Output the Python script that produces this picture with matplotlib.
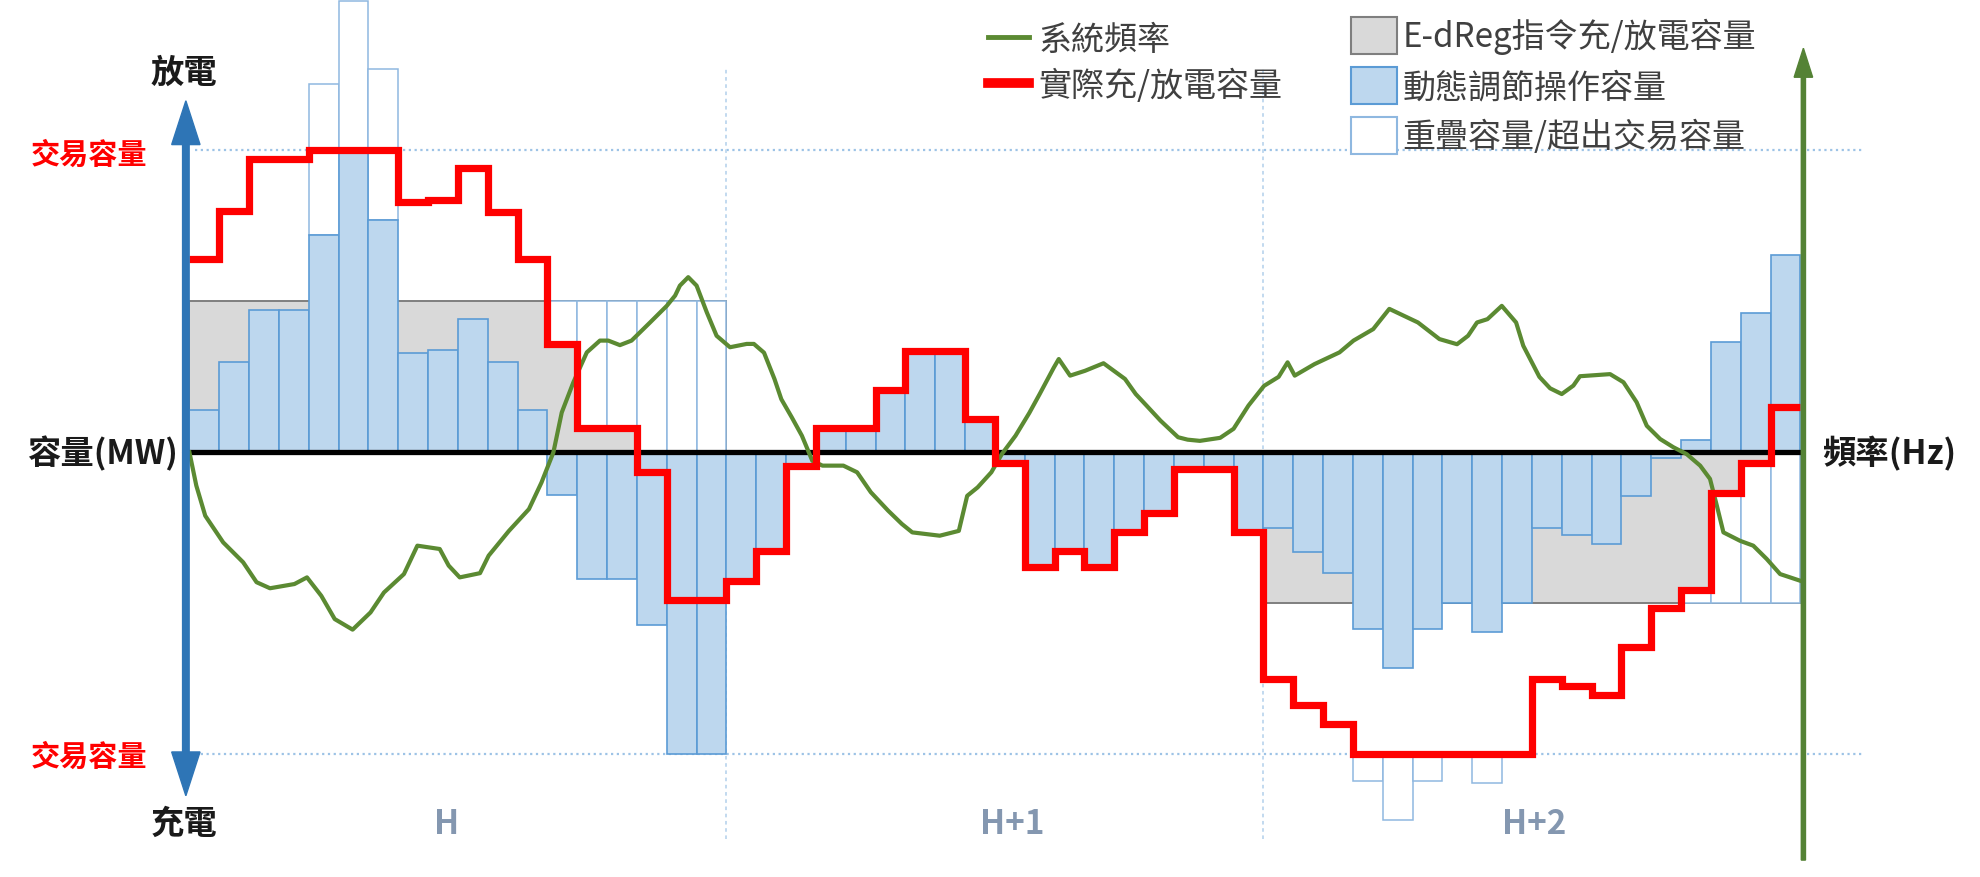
import numpy as np
import matplotlib.pyplot as plt
from matplotlib.lines import Line2D
from matplotlib.patches import Patch

plt.rcParams['font.family'] = ['Noto Sans CJK TC', 'DejaVu Sans']

# three hours, 18 dispatch slots each
hour_labels = ['H', 'H+1', 'H+2']
slots_per_hour = 18
trade_cap = 10
edreg = [5, 0, -5]   # E-dReg command per hour (MW)

# dynamic regulation (blue bars), one value per slot
dyn = [1.4, 3.0, 4.7, 4.7, 7.2, 10.0, 7.7, 3.3, 3.4, 4.4, 3.0, 1.4,
       -1.4, -4.2, -4.2, -5.7, -10.0, -10.0,
       -4.2, -3.2, -0.45, 0.8, 0.8, 2.05, 3.35, 3.35, 1.1, -0.35,
       -3.8, -3.25, -3.8, -2.65, -2.0, -0.55, -0.55, -2.65,
       -2.5, -3.3, -4.0, -5.85, -7.15, -5.85, -5.0, -5.95, -5.0,
       -2.5, -2.75, -3.05, -1.45, -0.2, 0.4, 3.65, 4.6, 6.55]

# actual charge/discharge (red step line)
actual = [6.4, 8.0, 9.7, 9.7, 10.0, 10.0, 10.0, 8.3, 8.35, 9.4, 7.95, 6.4,
          3.6, 0.8, 0.8, -0.65, -4.9, -4.9,
          -4.25, -3.25, -0.45, 0.8, 0.8, 2.05, 3.35, 3.35, 1.1, -0.35,
          -3.8, -3.25, -3.8, -2.65, -2.0, -0.55, -0.55, -2.65,
          -7.5, -8.35, -9.0, -10.0, -10.0, -10.0, -10.0, -10.0, -10.0,
          -7.5, -7.75, -8.05, -6.45, -5.15, -4.55, -1.35, -0.35, 1.5]

# overlap / over-trade capacity (white bars)
over_slot = [4, 5, 6, 12, 13, 14, 15, 16, 17, 39, 40, 41, 43, 50, 51, 52, 53]
over_bottom = [7.2, 10.0, 7.7, 3.6, 0.8, 0.8, 0, 0, 0,
               -10.87, -12.17, -10.87, -10.95, -5, -5, -5, -5]
over_top = [12.2, 14.95, 12.7, 5, 5, 5, 5, 5, 5,
            -10, -10, -10, -10, -4.55, -1.35, -0.35, 0]

# system frequency (green), slot position / deviation
freq_t = [0.0, 0.23, 0.53, 1.13, 1.80, 2.25, 2.70, 3.52, 3.94, 4.42, 4.87, 5.47,
          6.07, 6.52, 7.19, 7.64, 8.39, 8.69, 9.06, 9.74, 10.03, 10.71, 11.38,
          11.80, 12.2, 12.48, 12.87, 13.32, 13.76, 14.04, 14.43, 14.82, 15.44,
          16.0, 16.28, 16.44, 16.72, 17.0, 17.34, 17.67, 18.12, 18.68, 18.92,
          19.26, 19.61, 19.84, 20.19, 20.53, 20.88, 21.22, 21.92, 22.38, 22.84,
          23.42, 23.88, 24.23, 25.15, 25.79, 26.07, 26.42, 26.88, 27.23, 27.69,
          28.15, 28.50, 28.97, 29.14, 29.52, 30.02, 30.64, 31.36, 31.72, 32.08,
          32.55, 33.14, 33.46, 33.87, 34.55, 35.0, 35.5, 36.02, 36.51, 36.81,
          37.05, 37.71, 38.55, 39.02, 39.68, 40.22, 41.18, 41.90, 42.49, 42.86,
          43.16, 43.51, 43.99, 44.47, 44.71, 45.25, 45.61, 46.0, 46.39, 46.61,
          47.62, 48.07, 48.51, 48.85, 49.30, 49.74, 50.19, 50.64, 50.97, 51.20,
          51.42, 51.98, 52.42, 52.87, 53.32, 53.99]
freq_v = [0.0, -1.1, -2.1, -2.98, -3.64, -4.30, -4.50, -4.36, -4.14, -4.75, -5.52, -5.87,
          -5.30, -4.64, -4.03, -3.09, -3.20, -3.75, -4.14, -4.00, -3.42, -2.60, -1.88,
          -1.0, 0.0, 1.32, 2.32, 3.31, 3.70, 3.70, 3.55, 3.70, 4.30,
          4.85, 5.19, 5.52, 5.80, 5.52, 4.64, 3.86, 3.48, 3.59, 3.59,
          3.30, 2.43, 1.76, 1.16, 0.55, -0.28, -0.44, -0.44, -0.66, -1.32,
          -1.93, -2.37, -2.65, -2.76, -2.60, -1.44, -1.16, -0.66, -0.06, 0.55,
          1.3, 1.93, 2.8, 3.09, 2.54, 2.70, 2.95, 2.43, 1.93, 1.55,
          1.05, 0.5, 0.42, 0.38, 0.48, 0.78, 1.55, 2.2, 2.5, 2.98,
          2.54, 2.92, 3.31, 3.70, 4.08, 4.75, 4.30, 3.75, 3.58, 3.86,
          4.30, 4.41, 4.85, 4.30, 3.53, 2.5, 2.12, 1.93, 2.21, 2.52,
          2.59, 2.32, 1.66, 0.88, 0.44, 0.17, -0.06, -0.44, -0.88, -1.77,
          -2.65, -2.93, -3.09, -3.53, -4.03, -4.25]

n_slots = len(dyn)
slots = np.arange(n_slots)
hour_start = np.arange(len(edreg)) * slots_per_hour

fig = plt.figure(figsize=(19.8, 8.78), dpi=100)
ax = fig.add_axes([0, 0, 1, 1])
ax.set_xlim(-6.35, 60.02)
ax.set_ylim(-14.06, 15.01)
ax.axis('off')

dot = (0, (1, 1.6))
ax.hlines([trade_cap, -trade_cap], 0.2, 56.1, colors='#9DC3E6', lw=1.6, linestyles=[dot], zorder=1)
ax.vlines(hour_start[1:], -12.8, 12.7, colors='#BDD7EE', lw=1.3, linestyles=[(0, (2, 2))], zorder=1)

# E-dReg command band
ax.bar(hour_start, edreg, width=slots_per_hour, align='edge', color='#D9D9D9',
       edgecolor='#7F7F7F', lw=1.4, zorder=2)

over_h = np.array(over_top) - np.array(over_bottom)
ax.bar(over_slot, over_h, bottom=over_bottom, width=1, align='edge', color='white',
       edgecolor='#8FB8E0', lw=1.1, zorder=3)

ax.bar(slots, dyn, width=1, align='edge', color='#BDD7EE', edgecolor='#5B9BD5', lw=1.2, zorder=4)

ax.hlines(0, -0.15, 54.1, color='black', lw=3.8, zorder=5)

ax.plot(freq_t, freq_v, color='#5B8A32', lw=3.0, solid_joinstyle='round', zorder=6)

ax.stairs(actual, np.arange(n_slots + 1), baseline=None, color='#FF0000', lw=5.2, zorder=7)

# axes arrows
blue = '#2E75B6'
ax.arrow(-0.12, 0, 0, 11.64, width=0.22, head_width=0.95, head_length=1.45,
         length_includes_head=True, color=blue, zorder=8)
ax.arrow(-0.12, 0, 0, -11.37, width=0.22, head_width=0.95, head_length=1.45,
         length_includes_head=True, color=blue, zorder=8)
ax.arrow(54.1, -13.5, 0, 26.88, width=0.14, head_width=0.62, head_length=0.96,
         length_includes_head=True, color='#548235', zorder=8)

txt = '#1a1a1a'
ax.text(-0.18, 12.6, '放電', ha='center', va='center', fontsize=24, fontweight='bold', color=txt)
ax.text(-0.18, -12.3, '充電', ha='center', va='center', fontsize=24, fontweight='bold', color=txt)
ax.text(-0.4, 0, '容量(MW)', ha='right', va='center', fontsize=24, fontweight='bold', color=txt)
ax.text(54.74, 0, '頻率(Hz)', ha='left', va='center', fontsize=24, fontweight='bold', color=txt)
ax.text(-1.4, 9.9, '交易容量', ha='right', va='center', fontsize=21, fontweight='bold', color='#FF0000')
ax.text(-1.4, -10.05, '交易容量', ha='right', va='center', fontsize=21, fontweight='bold', color='#FF0000')

hour_x = [8.61, 27.57, 45.07]
for x, lab in zip(hour_x, hour_labels):
    ax.text(x, -12.3, lab, ha='center', va='center', fontsize=24, fontweight='bold', color='#8497B0')

# legends
line_handles = [Line2D([], [], color='#5B8A32', lw=3.5),
                Line2D([], [], color='#FF0000', lw=7)]
leg1 = ax.legend(line_handles, ['系統頻率', '實際充/放電容量'], loc='upper left',
                 bbox_to_anchor=(0.499, 0.974), frameon=False, fontsize=23.8,
                 handlelength=1.25, handletextpad=0.28, labelspacing=0.33,
                 borderpad=0, borderaxespad=0, labelcolor='#404040')
ax.add_artist(leg1)
patch_handles = [Patch(facecolor='#D9D9D9', edgecolor='#7F7F7F', lw=1.5),
                 Patch(facecolor='#BDD7EE', edgecolor='#5B9BD5', lw=1.5),
                 Patch(facecolor='white', edgecolor='#8FB8E0', lw=1.5)]
ax.legend(patch_handles, ['E-dReg指令充/放電容量', '動態調節操作容量', '重疊容量/超出交易容量'],
          loc='upper left', bbox_to_anchor=(0.6823, 0.980), frameon=False, fontsize=23.8,
          handlelength=1.4, handleheight=1.35, handletextpad=0.15, labelspacing=0.38,
          borderpad=0, borderaxespad=0, labelcolor='#404040')

fig.savefig('out.png', dpi=100)
